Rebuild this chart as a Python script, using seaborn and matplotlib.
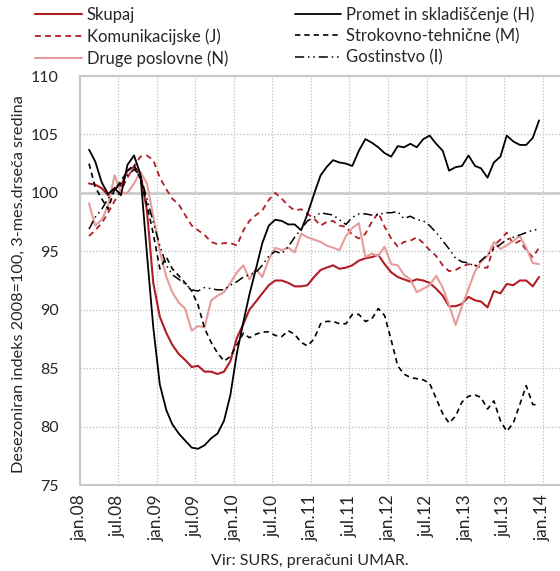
import numpy as np
import pandas as pd
import matplotlib
matplotlib.use("Agg")
import matplotlib.pyplot as plt
import matplotlib.dates as mdates
import seaborn as sns

sns.set_style("white")
plt.rcParams["font.family"] = ["Lato", "DejaVu Sans"]

# ---------- data: 3-month moving average, feb.08 .. dec.13 ----------
months = pd.date_range("2008-02-01", "2013-12-01", freq="MS") + pd.Timedelta(days=14)

skupaj = [100.8, 100.7, 100.4, 99.8, 100.4, 100.6, 101.9, 102.2, 101.7, 98.5,
          92.3, 89.4, 88.0, 87.0, 86.2, 85.7, 85.1, 85.2, 84.7, 84.7,
          84.5, 84.7, 85.6, 87.6, 88.8, 90.0, 90.7, 91.4, 92.1, 92.5,
          92.5, 92.3, 92.0, 92.0, 92.1, 92.8, 93.4, 93.6, 93.8, 93.5,
          93.6, 93.8, 94.2, 94.4, 94.5, 94.7, 93.9, 93.2, 92.8, 92.6,
          92.4, 92.6, 92.5, 92.3, 91.8, 91.2, 90.3, 90.3, 90.5, 91.1,
          90.8, 90.7, 90.2, 91.6, 91.4, 92.2, 92.1, 92.5, 92.5, 92.0, 92.8]

komunikacijske = [96.3, 96.8, 97.4, 98.3, 99.3, 100.2, 101.3, 102.3, 103.1, 103.2,
                  102.8, 101.3, 100.3, 99.5, 99.0, 98.1, 97.2, 96.8, 96.4, 95.8,
                  95.6, 95.7, 95.7, 95.5, 96.8, 97.6, 98.1, 98.5, 99.4, 100.0,
                  99.5, 98.9, 98.5, 98.6, 98.2, 97.8, 97.2, 97.5, 97.6, 97.2,
                  97.1, 96.4, 96.1, 96.5, 97.5, 98.3, 97.1, 96.1, 95.4, 95.8,
                  95.9, 96.2, 95.7, 95.1, 94.6, 93.8, 93.3, 93.4, 93.7, 93.9,
                  93.8, 93.6, 93.6, 95.5, 96.0, 96.6, 95.6, 95.9, 95.1, 94.5, 95.3]

druge = [99.1, 97.2, 97.7, 98.9, 101.5, 100.0, 100.0, 100.8, 101.8, 100.8,
         98.0, 95.0, 92.8, 91.5, 90.6, 90.1, 88.2, 88.6, 88.5, 90.8,
         91.2, 91.5, 92.3, 93.2, 93.8, 92.6, 93.5, 92.8, 94.3, 95.3,
         95.1, 95.3, 94.9, 96.5, 96.2, 96.0, 95.8, 95.5, 95.3, 95.1,
         96.3, 97.0, 97.4, 94.5, 94.8, 94.6, 95.4, 93.9, 93.8, 93.0,
         92.6, 91.5, 91.8, 92.1, 92.9, 91.9, 90.4, 88.7, 90.3, 91.8,
         93.3, 94.1, 94.6, 95.8, 95.2, 95.5, 95.9, 96.3, 95.3, 94.0, 93.9]

promet = [103.7, 102.7, 100.9, 99.9, 100.4, 99.8, 102.4, 103.2, 101.6, 94.8,
          88.5, 83.6, 81.4, 80.2, 79.4, 78.8, 78.2, 78.1, 78.4, 79.0,
          79.4, 80.5, 82.7, 86.3, 89.0, 91.3, 93.5, 95.7, 97.2, 97.7,
          97.6, 97.3, 97.3, 96.8, 98.2, 99.9, 101.5, 102.2, 102.8, 102.6,
          102.5, 102.3, 103.6, 104.6, 104.3, 103.9, 103.4, 103.1, 104.0, 103.9,
          104.2, 103.9, 104.6, 104.9, 104.2, 103.6, 101.9, 102.2, 102.3, 103.2,
          102.3, 102.1, 101.3, 102.6, 103.1, 104.9, 104.4, 104.1, 104.1, 104.7, 106.2]

strokovno = [102.5, 100.5, 99.5, 98.6, 100.3, 101.0, 101.9, 102.4, 101.2, 99.0,
             96.5, 93.5, 94.5, 93.5, 92.9, 92.3, 91.6, 90.4, 88.4, 87.2,
             86.3, 85.6, 86.0, 87.0, 88.0, 87.6, 87.9, 88.1, 88.1, 87.8,
             87.7, 88.2, 87.9, 87.2, 86.9, 87.5, 88.8, 89.0, 89.0, 88.8,
             88.8, 89.6, 89.6, 89.0, 89.2, 90.1, 89.5, 87.4, 85.2, 84.5,
             84.2, 84.1, 84.0, 83.7, 82.4, 81.1, 80.3, 80.9, 82.1, 82.6,
             82.7, 82.5, 81.5, 82.2, 80.5, 79.6, 80.3, 81.9, 83.5, 81.9, 81.8]

gostinstvo = [96.9, 97.9, 98.6, 99.5, 100.3, 100.8, 101.5, 102.0, 101.5, 99.5,
              97.5, 95.5, 93.8, 93.0, 92.6, 92.2, 91.7, 91.6, 91.9, 91.8,
              91.7, 91.7, 92.1, 92.4, 92.8, 93.0, 93.2, 93.8, 94.6, 95.0,
              94.8, 95.4, 96.2, 96.9, 97.6, 97.9, 98.3, 98.2, 98.1, 97.7,
              97.3, 97.9, 98.2, 98.2, 98.1, 98.1, 98.3, 98.3, 98.4, 97.8,
              98.0, 97.7, 97.6, 97.2, 96.6, 95.9, 95.2, 94.4, 94.1, 94.0,
              93.7, 94.2, 94.7, 95.2, 95.6, 96.0, 96.2, 96.4, 96.6, 96.8, 96.9]

labels = ["Skupaj", "Komunikacijske (J)", "Druge poslovne (N)",
          "Promet in skladiščenje (H)", "Strokovno-tehnične (M)", "Gostinstvo (I)"]
tick_dates = pd.date_range("2008-01-01", "2014-01-01", freq="6MS")
tick_labels = ["jan.08", "jul.08", "jan.09", "jul.09", "jan.10", "jul.10", "jan.11",
               "jul.11", "jan.12", "jul.12", "jan.13", "jul.13", "jan.14"]

# ---------- figure ----------
fig = plt.figure(figsize=(5.60, 5.71), dpi=100)
ax = fig.add_axes([0.142, 0.1506, 0.858, 0.7163])

red = "#B01E24"
pink = "#E69C9C"
series = [
    (skupaj, red, "-", 1.5),
    (komunikacijske, red, (0, (3.2, 2.4)), 1.3),
    (druge, pink, "-", 1.5),
    (promet, "black", "-", 1.3),
    (strokovno, "black", (0, (3.2, 2.4)), 1.2),
    (gostinstvo, "black", (0, (6, 2.5, 1, 2.5, 1, 2.5)), 1.1),
]
for (vals, col, ls, lw), lab in zip(series, labels):
    sns.lineplot(x=months, y=vals, color=col, linestyle=ls, linewidth=lw,
                 label=lab, ax=ax, zorder=3)

ax.axhline(100, color="#CCCCCC", lw=2, zorder=1)
ax.set_ylim(75, 110)
ax.set_yticks(range(75, 111, 5))
ax.set_xlim(pd.Timestamp("2008-01-01"), pd.Timestamp("2014-03-24"))
ax.set_xticks(tick_dates)
ax.set_xticklabels(tick_labels, rotation=90)
ax.grid(True, linestyle=(0, (1, 1.5)), color="#BDBDBD", linewidth=0.9, zorder=0)
ax.set_axisbelow(True)

ax.spines["right"].set_visible(False)
ax.spines["top"].set_color("#C8C8C8")
ax.spines["top"].set_linestyle((0, (1, 1)))
ax.spines["top"].set_linewidth(1.5)
ax.spines["left"].set_color("#C8C8C8")
ax.spines["left"].set_linewidth(1.5)
ax.spines["bottom"].set_color("#C8C8C8")
ax.spines["bottom"].set_linewidth(1.5)

ax.tick_params(axis="y", length=0, pad=15, labelsize=11.5)
ax.tick_params(axis="x", length=3, color="#C8C8C8", pad=4, labelsize=12.5)
ax.set_xlabel("")
ax.set_ylabel("Desezoniran indeks 2008=100, 3-mes.drseča sredina", fontsize=11.7)
ax.yaxis.set_label_coords(-0.112, 0.49)

handles, labs = ax.get_legend_handles_labels()
ax.get_legend().remove()
fig.legend(handles, labs, loc="upper left", bbox_to_anchor=(35 / 560, 1 - 6 / 571),
           ncol=2, frameon=False, fontsize=12, handlelength=2.8, handletextpad=0.3,
           columnspacing=4.0, labelspacing=0.33, borderpad=0, borderaxespad=0)

fig.text(310 / 560, 1 - 561 / 571, "Vir: SURS, preračuni UMAR.", ha="center",
         va="center", fontsize=11.5)

fig.savefig("out.png", dpi=100)
